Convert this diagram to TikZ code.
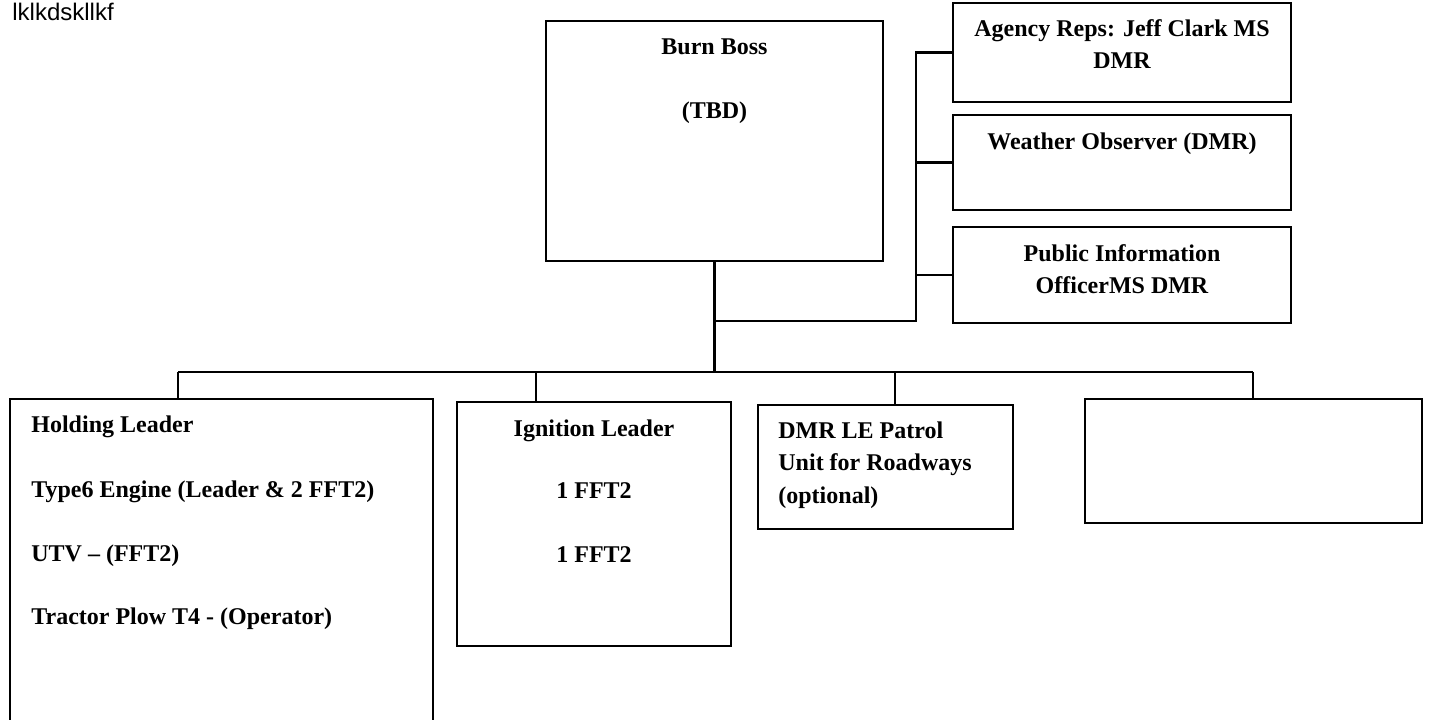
\documentclass[tikz,border=0pt]{standalone}
\usepackage{fontspec}
\setmainfont{Liberation Serif}
\newfontfamily\arialfont{Liberation Sans}
\begin{document}
\begin{tikzpicture}[x=0.5pt,y=-0.5pt,
  box/.style={draw=black,line width=1.4pt,fill=white,rectangle,inner sep=0pt,outer sep=0pt,anchor=north west},
  conn/.style={draw=black,line width=1.4pt},
  lbl/.style={inner sep=0pt,font=\fontsize{12}{14}\selectfont\bfseries},
  lblc/.style={lbl,anchor=base},
  lbll/.style={lbl,anchor=base west}]
\useasboundingbox (0,0) rectangle (1429,719);
\fill[white] (0,0) rectangle (1429,719);
% boxes
\node[box,minimum width=168.5pt,minimum height=120pt] (boss) at (546,21) {};
\node[box,minimum width=169pt,minimum height=49.5pt] (agency) at (953,3) {};
\node[box,minimum width=169pt,minimum height=47.5pt] (weather) at (953,115) {};
\node[box,minimum width=169pt,minimum height=48pt] (pio) at (953,227) {};
\node[box,minimum width=211.5pt,minimum height=168pt] (hold) at (10,399) {};
\node[box,minimum width=137pt,minimum height=122pt] (ign) at (457,402) {};
\node[box,minimum width=127.5pt,minimum height=62pt] (dmr) at (758,405) {};
\node[box,minimum width=168.5pt,minimum height=62pt] (blank) at (1085,399) {};
% junctions
\coordinate (j) at (714.5,372);
\coordinate (jr) at (714.5,321);
\coordinate (sv) at (916,321);
\coordinate (b1) at (178,372);
\coordinate (b2) at (536,372);
\coordinate (b3) at (895,372);
\coordinate (b4) at (1253,372);
% connectors
\draw[conn] (boss.south) -- (j);
\draw[conn] (b1) -- (b4);
\draw[conn] (b1) -- (b1 |- hold.north);
\draw[conn] (b2) -- (b2 |- ign.north);
\draw[conn] (b3) -- (b3 |- dmr.north);
\draw[conn] (b4) -- (b4 |- blank.north);
\draw[conn] (jr) -- (sv) |- (agency.west);
\draw[conn] (sv |- weather.west) -- (weather.west);
\draw[conn] (sv |- pio.west) -- (pio.west);
% texts
\node[inner sep=0pt,anchor=base west,font=\arialfont\fontsize{12}{14}\selectfont] (note) at (12,20) {lklkdskllkf};
\node[lblc] (t1) at (714.5,54) {Burn Boss};
\node[lblc] (t2) at (714.5,118) {(TBD)};
\node[lblc] (t3) at (1122,36) {Agency Reps: Jeff Clark MS};
\node[lblc] (t4) at (1122,68) {DMR};
\node[lblc] (t5) at (1122,149) {Weather Observer (DMR)};
\node[lblc] (t6) at (1122,261) {Public Information};
\node[lblc] (t7) at (1122,293) {OfficerMS DMR};
\node[lbll] (t8) at (31,432) {Holding Leader};
\node[lbll] (t9) at (31,497) {Type6 Engine (Leader \& 2 FFT2)};
\node[lbll] (t10) at (31,561) {UTV – (FFT2)};
\node[lbll] (t11) at (31,624) {Tractor Plow T4 - (Operator)};
\node[lblc] (t12) at (594,436) {Ignition Leader};
\node[lblc] (t13) at (594,498) {1 FFT2};
\node[lblc] (t14) at (594,562) {1 FFT2};
\node[lbll] (t15) at (778,438) {DMR LE Patrol};
\node[lbll] (t16) at (778,470) {Unit for Roadways};
\node[lbll] (t17) at (778,503) {(optional)};
\end{tikzpicture}
\end{document}
